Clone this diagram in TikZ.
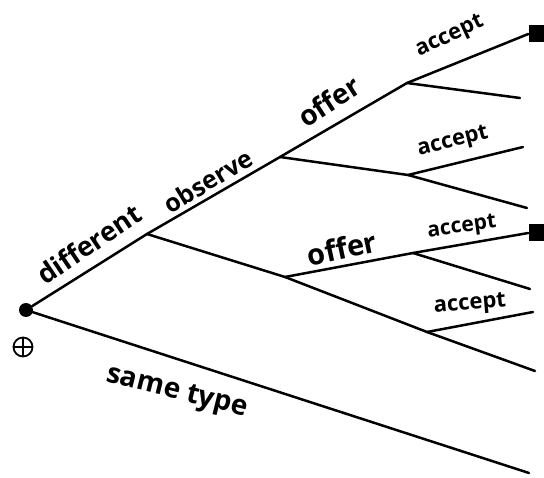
\documentclass[tikz,border=0pt]{standalone}
\usepackage{fontspec}
\newfontfamily\handfont{Open Sans}
\begin{document}
\begin{tikzpicture}[x=1pt,y=-1pt,
  branch/.style={line width=2.5pt, line cap=round, line join=round},
  lbl/.style={font=\handfont\bfseries\fontsize{#1}{#1}\selectfont, inner sep=0pt},
  leafbox/.style={fill=black, minimum width=15pt, minimum height=17pt, inner sep=0pt},
  rootdot/.style={circle, fill=black, inner sep=0pt, minimum size=14pt},
  chancemark/.style={circle, draw=black, line width=1.8pt, inner sep=0pt, minimum size=19pt}]
\useasboundingbox (0,0) rectangle (544,478);

% decision points
\node[rootdot] (root) at (26,310) {};
\node[chancemark] (chance) at (23,347) {};
\draw[line width=1.8pt] (chance.north) -- (chance.south);
\draw[line width=1.8pt] (chance.west) -- (chance.east);

\coordinate (A) at (147,234);
\coordinate (B) at (280,157);
\coordinate (C) at (285,277);
\coordinate (D) at (407,83);
\coordinate (E) at (408,175);
\coordinate (F) at (413,253);
\coordinate (G) at (427,332);

% terminal points
\node[leafbox] (D1) at (536,34) {};
\coordinate (D2) at (520,98);
\coordinate (E1) at (523,147);
\coordinate (E2) at (527,208);
\node[leafbox] (F1) at (536,233) {};
\coordinate (F2) at (530,289);
\coordinate (G1) at (533,312);
\coordinate (G2) at (535,371);
\coordinate (S) at (529,473);

% branches
\draw[branch] (root) -- (A);
\draw[branch] (root) -- (S);
\draw[branch] (A) -- (B);
\draw[branch] (A) -- (C);
\draw[branch] (B) -- (D);
\draw[branch] (B) -- (E);
\draw[branch] (D) -- (D1.west);
\draw[branch] (D) -- (D2);
\draw[branch] (E) -- (E1);
\draw[branch] (E) -- (E2);
\draw[branch] (C) -- (F);
\draw[branch] (C) -- (G);
\draw[branch] (F) -- (F1.west);
\draw[branch] (F) -- (F2);
\draw[branch] (G) -- (G1);
\draw[branch] (G) -- (G2);

% move labels
\node[lbl=27, rotate=34] (tDiff) at (89,244) {different};
\node[lbl=25, rotate=31] (tObs) at (208,181) {observe};
\node[lbl=28, rotate=33] (tOffer1) at (329,101) {offer};
\node[lbl=22, rotate=25] (tAcc1) at (450,37) {accept};
\node[lbl=22, rotate=14] (tAcc2) at (453,142) {accept};
\node[lbl=29, rotate=12] (tOffer2) at (342,248) {offer};
\node[lbl=21, rotate=8] (tAcc3) at (462,228) {accept};
\node[lbl=22, rotate=5] (tAcc4) at (470,305) {accept};
\node[lbl=28, rotate=-14] (tSame) at (177,393) {same type};
\end{tikzpicture}
\end{document}
